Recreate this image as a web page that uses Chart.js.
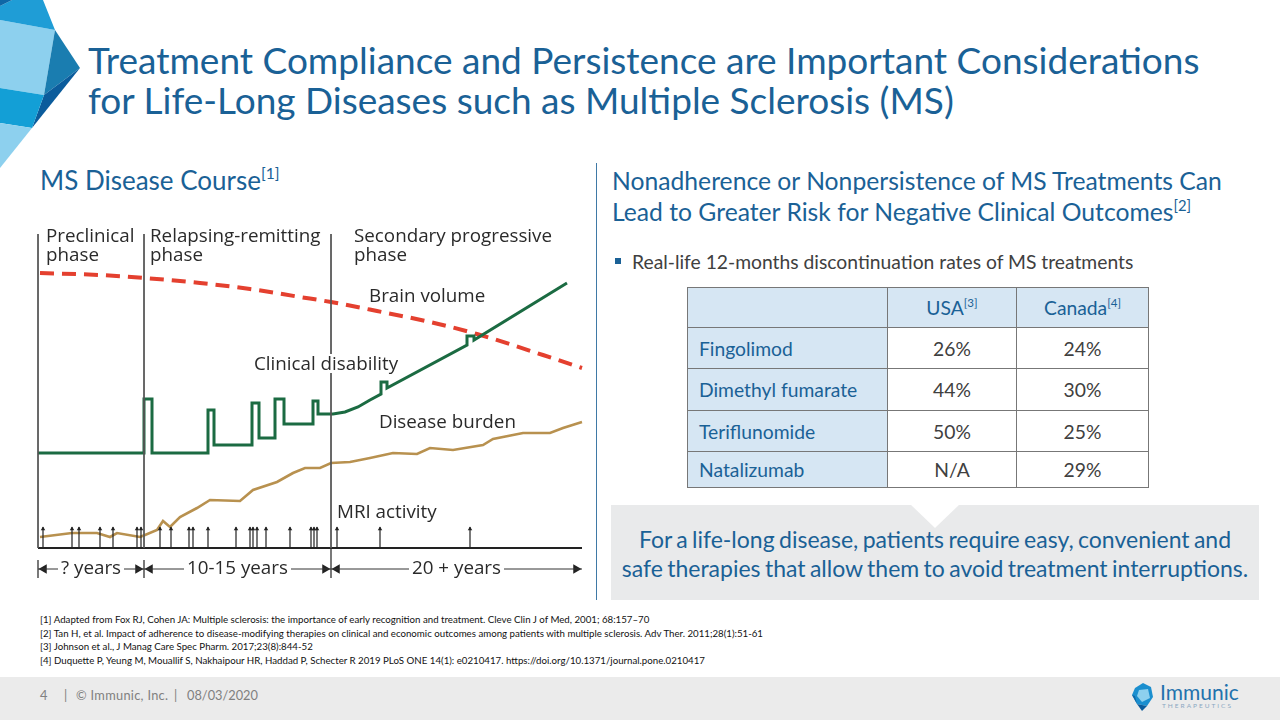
<!DOCTYPE html>
<html><head><meta charset="utf-8">
<script src="https://cdn.jsdelivr.net/npm/chart.js@4.4.1/dist/chart.umd.min.js"></script>
<style>
html,body{margin:0;padding:0;background:#fff;}
body{width:1280px;height:720px;position:relative;overflow:hidden;font-family:Lato,"Open Sans",sans-serif;}
.abs{position:absolute;white-space:nowrap;}
#title{left:88px;top:40px;font-size:37px;line-height:40px;color:#1a6196;}
#lefthead{left:40px;top:165px;font-size:26px;line-height:30px;color:#1a6196;}
#righthead{left:612px;top:165px;font-size:24.7px;line-height:31px;color:#1a6196;}
sup{font-size:60%;vertical-align:0;position:relative;top:-0.7em;}
#divider{left:596px;top:163px;width:1px;height:437px;background:#3f79a6;}
#bullet{left:632px;top:250px;font-size:19.3px;line-height:24px;color:#404040;}
#bulletsq{left:615px;top:258px;width:6px;height:6px;background:#1a6196;}
#tbl{position:absolute;left:687px;top:287px;border-collapse:collapse;font-size:19.3px;}
#tbl td{border:1.5px solid #777;padding:0;text-align:center;color:#404040;}
#tbl tr.h td{background:#d6e6f3;color:#1a6196;}
#tbl td.r{background:#d6e6f3;color:#1a6196;text-align:left;padding-left:11px;}
#callout{left:611px;top:505px;width:648px;height:95px;background:#e9eaeb;}
#notch{left:910px;top:504px;}
#callouttext{left:611px;top:525px;width:648px;text-align:center;font-size:23px;line-height:29px;color:#1a6196;word-spacing:-1.5px;}
#foot{left:40px;top:613px;font-size:9.7px;line-height:13.6px;color:#111;}
#bar{left:0;top:677px;width:1280px;height:43px;background:#ebebeb;}
.pg{top:686px;font-size:12.8px;line-height:18px;color:#808080;}
#logo1{left:1160px;top:680px;font-size:21px;line-height:24px;color:#2272ad;}
#logo2{left:1162px;top:702px;font-size:6.5px;line-height:8px;letter-spacing:2px;color:#8aa7c2;}
#chartbox{position:absolute;left:30px;top:215px;width:570px;height:370px;}
.dl{position:absolute;white-space:nowrap;font-family:"Open Sans",sans-serif;font-size:18.8px;line-height:19px;color:#2a2a2a;}
.yl{background:#fff;padding:0 3px;}
</style>
</head><body>
<svg class="abs" style="left:0;top:0" width="90" height="172">
  <polygon points="0,20 55,30 44,95 0,88" fill="#8dd0ee"/>
  <polygon points="12,0 43,0 55,30 0,20 0,6" fill="#1f9dd6"/>
  <polygon points="0,0 12,0 0,6" fill="#0f67a6"/>
  <polygon points="55,30 80,68 44,95" fill="#1a7db0"/>
  <polygon points="80,68 44,95 32,128" fill="#0b5c9c"/>
  <polygon points="0,88 44,95 32,128 0,123" fill="#139fd6"/>
  <polygon points="0,123 32,128 0,168" fill="#8dd0ee"/>
</svg>
<div id="title" class="abs">Treatment Compliance and Persistence are Important Considerations<br>for Life-Long Diseases such as Multiple Sclerosis (MS)</div>
<div id="lefthead" class="abs">MS Disease Course<sup>[1]</sup></div>
<div id="divider" class="abs"></div>
<div id="righthead" class="abs">Nonadherence or Nonpersistence of MS Treatments Can<br>Lead to Greater Risk for Negative Clinical Outcomes<sup>[2]</sup></div>
<div id="bulletsq" class="abs"></div>
<div id="bullet" class="abs">Real-life 12-months discontinuation rates of MS treatments</div>
<table id="tbl">
  <colgroup><col style="width:200px"><col style="width:129px"><col style="width:132px"></colgroup>
  <tbody id="tbody"></tbody>
</table>
<div id="callout" class="abs"></div>
<svg id="notch" class="abs" width="52" height="26"><polygon points="0,0 50,0 25,24" fill="#fff"/></svg>
<div id="callouttext" class="abs">For a life-long disease, patients require easy, convenient and<br>safe therapies that allow them to avoid treatment interruptions.</div>
<div id="foot" class="abs">[1] Adapted from Fox RJ, Cohen JA: Multiple sclerosis: the importance of early recognition and treatment. Cleve Clin J of Med, 2001; 68:157–70<br>[2] Tan H, et al. Impact of adherence to disease-modifying therapies on clinical and economic outcomes among patients with multiple sclerosis. Adv Ther. 2011;28(1):51-61<br>[3] Johnson et al., J Manag Care Spec Pharm. 2017;23(8):844-52<br>[4] Duquette P, Yeung M, Mouallif S, Nakhaipour HR, Haddad P, Schecter R 2019 PLoS ONE 14(1): e0210417. https://doi.org/10.1371/journal.pone.0210417</div>
<div id="bar" class="abs"></div>
<div class="abs pg" style="left:40px">4</div>
<div class="abs pg" style="left:64px">|</div>
<div class="abs pg" style="left:76px;letter-spacing:0.3px">© Immunic, Inc.</div>
<div class="abs pg" style="left:174px">|</div>
<div class="abs pg" style="left:187px">08/03/2020</div>
<svg class="abs" style="left:1131px;top:682px" width="24" height="30">
  <polygon points="4,6 12,1 20,5 22,15 16,24 6,22 1,13" fill="#1b8fcf"/>
  <polygon points="8,8 17,7 19,16 11,20 6,14" fill="#8dd0ee"/>
  <polygon points="6,22 16,24 11,29" fill="#0b5c9c"/>
  <polygon points="1,13 6,22 4,14" fill="#0f67a6"/>
</svg>
<div id="logo1" class="abs">Immunic</div>
<div id="logo2" class="abs">THERAPEUTICS</div>

<div id="chartbox"><canvas id="c"></canvas></div>
<div class="dl" style="left:46px;top:226px">Preclinical<br>phase</div>
<div class="dl" style="left:150px;top:226px">Relapsing-remitting<br>phase</div>
<div class="dl" style="left:354px;top:226px">Secondary progressive<br>phase</div>
<div class="dl" style="left:369px;top:286px">Brain volume</div>
<div class="dl" style="left:251px;top:354px;background:#fff;padding:0 3px;">Clinical disability</div>
<div class="dl" style="left:379px;top:412px">Disease burden</div>
<div class="dl" style="left:337px;top:502px">MRI activity</div>
<div id="years"></div>

<script>
// ---- table data ----
const drugs = ['Fingolimod', 'Dimethyl fumarate', 'Teriflunomide', 'Natalizumab'];
const regions = ['USA', 'Canada'];
const regionRefs = ['[3]', '[4]'];
const usaRates = ['26%', '44%', '50%', 'N/A'];
const canadaRates = ['24%', '30%', '25%', '29%'];
const rowHeights = [40, 41, 42, 41, 36];

// ---- MS disease course (conceptual time units / relative level) ----
const phaseStart = [0, 106, 293];
const timelineEnd = 544;
const durationLabels = ['? years', '10-15 years', '20 + years'];
const brainVolume = [[2,275],[62,273],[106,270],[162,265],[212,259],[262,251],[293,246],[339,237],[392,226],[439,214],[505,193],[544,180]];
const clinicalDisability = [[0,95],[106,95],[106,149],[114,149],[114,95],[170,95],[170,138],[176,138],[176,103],[214,103],[214,145],[221,145],[221,110],[237,110],[237,149],[246,149],[246,124],[275,124],[275,147],[280,147],[280,134],[295,134],[307,136],[320,141],[332,148],[343,154],[343,166],[349,166],[349,160],[429,203],[429,212],[436,212],[436,208],[529,265]];
const diseaseBurden = [[2,11],[34,15],[59,15],[72,11],[79,15],[102,11],[107,13],[119,18],[125,27],[132,21],[142,31],[159,40],[172,48],[202,47],[215,58],[239,66],[255,75],[267,80],[282,80],[293,85],[312,86],[332,90],[355,95],[379,94],[392,100],[415,98],[445,103],[455,109],[485,115],[512,115],[525,120],[544,126]];
const mriActivity = [5,34,41,62,75,99,103,122,133,151,155,170,198,212,215,219,228,252,273,276,279,299,342,432];
const mriHeight = 21;

// build table
const tb = document.getElementById('tbody');
let html = '<tr class="h" style="height:' + rowHeights[0] + 'px"><td></td>';
regions.forEach((r, i) => { html += '<td>' + r + '<sup>' + regionRefs[i] + '</sup></td>'; });
html += '</tr>';
drugs.forEach((d, i) => {
  html += '<tr style="height:' + rowHeights[i + 1] + 'px"><td class="r">' + d + '</td><td>' + usaRates[i] + '</td><td>' + canadaRates[i] + '</td></tr>';
});
tb.innerHTML = html;

const yearsDiv = document.getElementById('years');
const spans = phaseStart.map((s, i) => [s, i < phaseStart.length - 1 ? phaseStart[i + 1] : timelineEnd]);

const pts = a => a.map(p => ({x: p[0], y: p[1]}));
const phaseLines = [];
phaseStart.forEach(x => { phaseLines.push({x, y: 314}, {x, y: 0}, {x, y: null}); });
const phaseTicks = [];
phaseStart.forEach((x, i) => { phaseTicks.push({x, y: i === 2 ? 0 : -12}, {x, y: -30}, {x, y: null}); });
const mriLines = [];
mriActivity.forEach(x => { mriLines.push({x, y: 0}, {x, y: mriHeight}, {x, y: null}); });
const mriHeads = mriActivity.map(x => ({x, y: mriHeight - 2}));
const durY = -21;
const durLines = [], durHeads = [], durRot = [];
spans.forEach(s => {
  durLines.push({x: s[0], y: durY}, {x: s[1], y: durY}, {x: s[1], y: null});
  durHeads.push({x: s[0] + 6, y: durY}, {x: s[1] - 6, y: durY});
  durRot.push(-90, 90);
});

const common = {pointRadius: 0, tension: 0, clip: false, spanGaps: false, fill: false};
const chart = new Chart(document.getElementById('c'), {
  type: 'line',
  data: {
    datasets: [
      Object.assign({label: 'Phase boundaries', data: phaseLines, borderColor: '#555', borderWidth: 1}, common),
      Object.assign({label: 'Phase ticks', data: phaseTicks, borderColor: '#333', borderWidth: 1.3}, common),
      Object.assign({label: 'Time axis', data: [{x: 0, y: 0}, {x: timelineEnd, y: 0}], borderColor: '#222', borderWidth: 2}, common),
      Object.assign({label: 'Durations', data: durLines, borderColor: '#333', borderWidth: 1}, common),
      {label: 'Duration arrows', data: durHeads, showLine: false, pointStyle: 'triangle', pointRadius: 5.5, pointRotation: durRot, pointBackgroundColor: '#222', pointBorderColor: '#222', pointBorderWidth: 0, clip: false},
      Object.assign({label: 'MRI activity', data: mriLines, borderColor: '#222', borderWidth: 1.2}, common),
      {label: 'MRI heads', data: mriHeads, showLine: false, pointStyle: 'triangle', pointRadius: 2.6, pointBackgroundColor: '#222', pointBorderColor: '#222', pointBorderWidth: 0, clip: false},
      Object.assign({label: 'Disease burden', data: pts(diseaseBurden), borderColor: '#b8914f', borderWidth: 2.6}, common),
      Object.assign({label: 'Clinical disability', data: pts(clinicalDisability), borderColor: '#1b6b42', borderWidth: 3, borderJoinStyle: 'miter'}, common),
      Object.assign({label: 'Brain volume', data: pts(brainVolume), borderColor: '#e4402f', borderWidth: 4, borderDash: [14, 8], cubicInterpolationMode: 'monotone'}, common, {tension: 0.4})
    ]
  },
  options: {
    responsive: true, maintainAspectRatio: false, animation: false,
    layout: {autoPadding: false, padding: {left: 8, right: 18, top: 13, bottom: 0}},
    scales: {
      x: {type: 'linear', min: 0, max: timelineEnd, display: false},
      y: {type: 'linear', min: -37, max: 320, display: false}
    },
    plugins: {legend: {display: false}, tooltip: {enabled: false}},
    events: []
  }
});

// place duration labels using the scales
const xs = chart.scales.x, ys = chart.scales.y;
spans.forEach((s, i) => {
  const cx = 30 + xs.getPixelForValue((s[0] + s[1]) / 2);
  const cy = 215 + ys.getPixelForValue(durY);
  const d = document.createElement('div');
  d.className = 'dl yl';
  d.textContent = durationLabels[i];
  d.style.top = (cy - 11) + 'px';
  d.style.left = '0px';
  yearsDiv.appendChild(d);
  d.style.left = (cx - d.offsetWidth / 2) + 'px';
});
</script>
</body></html>
